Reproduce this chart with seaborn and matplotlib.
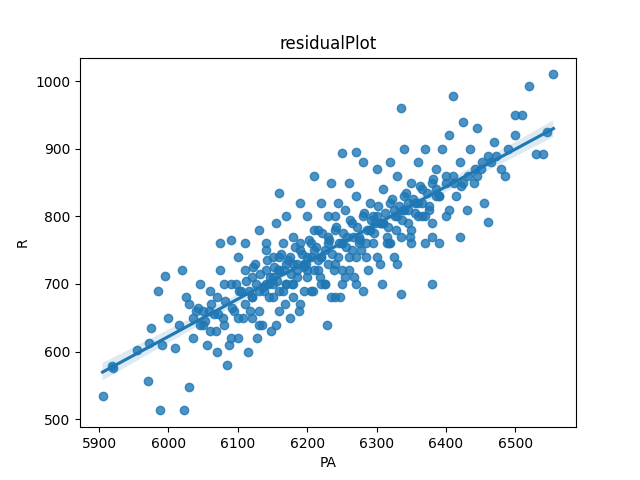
import numpy as np
import pandas as pd
import matplotlib
matplotlib.use("Agg")
import matplotlib.pyplot as plt
import seaborn as sns

# values (PA vs R)
pa = [5905, 5918, 5920, 5955, 5970, 5972, 5975, 5988, 6022, 6030, 6555, 6520, 6410, 6335,
      6250, 6270, 6500, 6510, 6545, 6540, 6530, 6460, 6420, 6380, 6335, 6160, 6075, 6090,
      5985, 5995, 6020, 5990, 6000, 6010, 6015, 6025, 6035, 6040, 6045, 6050, 6055, 6060,
      6065, 6070, 6075, 6080, 6085, 6090, 6095, 6100, 6100, 6105, 6110, 6110, 6115, 6120,
      6120, 6125, 6130, 6130, 6135, 6140, 6140, 6145, 6150, 6150, 6155, 6160, 6160, 6165,
      6170, 6170, 6175, 6180, 6180, 6185, 6190, 6190, 6195, 6200, 6200, 6205, 6210, 6210,
      6215, 6220, 6220, 6225, 6230, 6230, 6235, 6240, 6240, 6245, 6250, 6250, 6255, 6260,
      6260, 6265, 6270, 6270, 6275, 6280, 6280, 6285, 6290, 6290, 6295, 6300, 6300, 6305,
      6310, 6310, 6315, 6320, 6320, 6325, 6330, 6330, 6335, 6340, 6340, 6345, 6350, 6350,
      6355, 6360, 6360, 6365, 6370, 6370, 6375, 6380, 6380, 6385, 6390, 6390, 6395, 6400,
      6400, 6405, 6410, 6415, 6420, 6425, 6430, 6435, 6440, 6445, 6450, 6455, 6460, 6470,
      6480, 6490, 6500, 6050, 6060, 6070, 6080, 6090, 6100, 6110, 6120, 6130, 6140, 6150,
      6160, 6170, 6180, 6190, 6200, 6210, 6220, 6230, 6240, 6250, 6260, 6270, 6280, 6290,
      6300, 6310, 6320, 6330, 6340, 6350, 6360, 6370, 6380, 6390, 6400, 6140, 6150, 6160,
      6170, 6180, 6190, 6200, 6210, 6220, 6230, 6240, 6250, 6120, 6130, 6145, 6155, 6165,
      6175, 6185, 6195, 6205, 6215, 6225, 6235, 6245, 6255, 6265, 6275, 6285, 6295, 6305,
      6315, 6325, 6345, 6365, 6385, 6405, 6425, 6445, 6465, 6485, 6030, 6045, 6058, 6068,
      6078, 6088, 6098, 6108, 6118, 6128, 6138, 6148, 6158, 6168, 6178, 6188, 6198, 6208,
      6218, 6228, 6238, 6248, 6258, 6268, 6278, 6288, 6298, 6308, 6318, 6328, 6338, 6348,
      6112, 6122, 6132, 6142, 6152, 6162, 6172, 6182, 6192, 6202, 6212, 6222, 6232, 6242,
      6252, 6262, 6272, 6282, 6292, 6302, 6312, 6322, 6332, 6342, 6352, 6362, 6372, 6382,
      6116, 6126, 6136, 6146, 6156, 6166, 6176, 6186, 6196, 6206, 6216, 6226, 6236, 6246,
      6256, 6266, 6276, 6286, 6296, 6306, 6316, 6326, 6336, 6346, 6356, 6366, 6376, 6386,
      6035, 6042, 6052, 6062, 6072, 6082, 6092, 6102, 6412, 6422, 6432, 6442, 6452, 6472]
r = [535, 578, 575, 603, 557, 612, 635, 513, 513, 548, 1010, 993, 978, 960,
     893, 895, 950, 950, 925, 892, 892, 792, 770, 700, 685, 835, 760, 765,
     690, 712, 720, 610, 650, 605, 640, 680, 620, 660, 700, 640, 610, 690,
     655, 600, 720, 640, 580, 700, 660, 740, 620, 690, 670, 760, 600, 710,
     650, 730, 690, 780, 640, 720, 760, 680, 740, 700, 790, 660, 720, 760,
     700, 800, 740, 680, 770, 720, 760, 820, 690, 740, 800, 760, 720, 860,
     780, 740, 820, 700, 760, 800, 850, 730, 780, 820, 760, 700, 810, 850,
     740, 790, 700, 830, 760, 800, 880, 740, 780, 820, 760, 870, 800, 730,
     840, 790, 760, 820, 880, 740, 800, 860, 770, 830, 900, 790, 850, 760,
     820, 880, 800, 840, 760, 900, 810, 850, 790, 870, 830, 760, 900, 850,
     800, 920, 860, 830, 880, 940, 810, 900, 850, 930, 870, 820, 890, 910,
     870, 900, 920, 660, 630, 680, 700, 620, 650, 720, 680, 640, 700, 680,
     740, 700, 730, 670, 720, 750, 700, 730, 680, 760, 720, 740, 690, 780,
     740, 790, 760, 730, 810, 780, 820, 800, 770, 830, 860, 750, 710, 690,
     730, 700, 750, 710, 780, 740, 770, 800, 720, 680, 660, 700, 640, 690,
     650, 710, 730, 690, 720, 700, 680, 740, 710, 750, 770, 760, 800, 790,
     770, 810, 820, 800, 840, 810, 850, 860, 880, 860, 670, 640, 660, 630,
     650, 610, 700, 650, 660, 620, 690, 630, 720, 670, 700, 660, 730, 690,
     710, 640, 720, 680, 770, 710, 750, 720, 790, 700, 760, 780, 810, 770,
     705, 725, 715, 735, 725, 745, 735, 755, 745, 765, 755, 775, 765, 785,
     775, 795, 785, 805, 795, 815, 805, 825, 815, 835, 825, 845, 835, 855,
     690, 700, 695, 710, 705, 720, 715, 730, 725, 740, 735, 750, 745, 760,
     755, 770, 765, 780, 775, 790, 785, 800, 795, 810, 805, 820, 815, 830,
     650, 665, 645, 670, 655, 675, 665, 690, 850, 845, 860, 870, 880, 890]

df = pd.DataFrame({"PA": pa, "R": r})

plt.figure(figsize=(6.4, 4.8), dpi=100)
sns.regplot(x="PA", y="R", data=df)
plt.title("residualPlot")
plt.savefig("out.png")
